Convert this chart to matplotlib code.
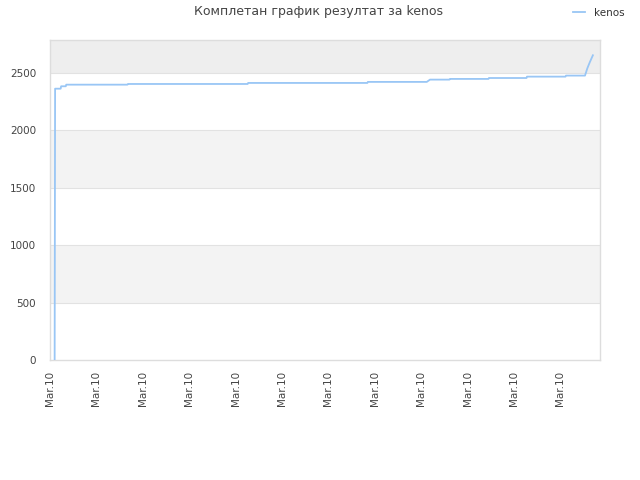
import matplotlib
matplotlib.use("Agg")
import matplotlib.pyplot as plt

title = "Комплетан график резултат за kenos"
series_name = "kenos"
t = [0.10, 0.11, 0.23, 0.24, 0.34, 0.35, 1.67, 1.68, 4.26, 4.27, 6.84, 6.85,
     8.12, 8.19, 8.61, 8.62, 9.45, 9.46, 10.27, 10.28, 11.11, 11.12, 11.53,
     11.58, 11.63, 11.70]
score = [0, 2363, 2363, 2384, 2384, 2398, 2398, 2404, 2404, 2413, 2413, 2422,
         2422, 2442, 2442, 2448, 2448, 2456, 2456, 2468, 2468, 2477, 2477,
         2540, 2590, 2654]
tick_pos = list(range(12))
tick_labels = ["Mar.10"] * 12
y_ticks = [0, 500, 1000, 1500, 2000, 2500]

fig = plt.figure(figsize=(6.4, 4.8), dpi=100)
ax = fig.add_axes([50/640, 120/480, 550/640, 320/480])
ymax = 2787
ax.set_xlim(0, 550/46.4)
ax.set_ylim(0, ymax)

bands = [(500, 1000, "#f3f3f3"), (1500, 2000, "#f3f3f3"), (2500, ymax, "#eeeeee")]
for lo, hi, c in bands:
    ax.axhspan(lo, hi, color=c, zorder=0, lw=0)
for yv in y_ticks[1:]:
    ax.axhline(yv, color="#e2e2e2", lw=0.8, zorder=1)

ax.plot(t, score, color="#99c6f5", lw=1.3, zorder=3, label=series_name)

for s in ax.spines.values():
    s.set_color("#dddddd")
    s.set_linewidth(1)

ax.set_yticks(y_ticks)
ax.set_yticklabels([str(v) for v in y_ticks])
ax.set_xticks(tick_pos)
ax.set_xticklabels(tick_labels, rotation=90)
ax.tick_params(axis="both", length=0, labelsize=7.5, labelcolor="#444444")
ax.tick_params(axis="y", pad=10)
ax.tick_params(axis="x", pad=8)

fig.text(0.497, 1 - 12/480, title, ha="center", va="center", fontsize=9, color="#444444")
leg = fig.legend(loc="center right", bbox_to_anchor=(0.99, 1 - 13/480), frameon=False,
                 fontsize=7.5, handlelength=1.2, handletextpad=0.8)
for txt in leg.get_texts():
    txt.set_color("#333333")

fig.savefig("out.png", dpi=100)
